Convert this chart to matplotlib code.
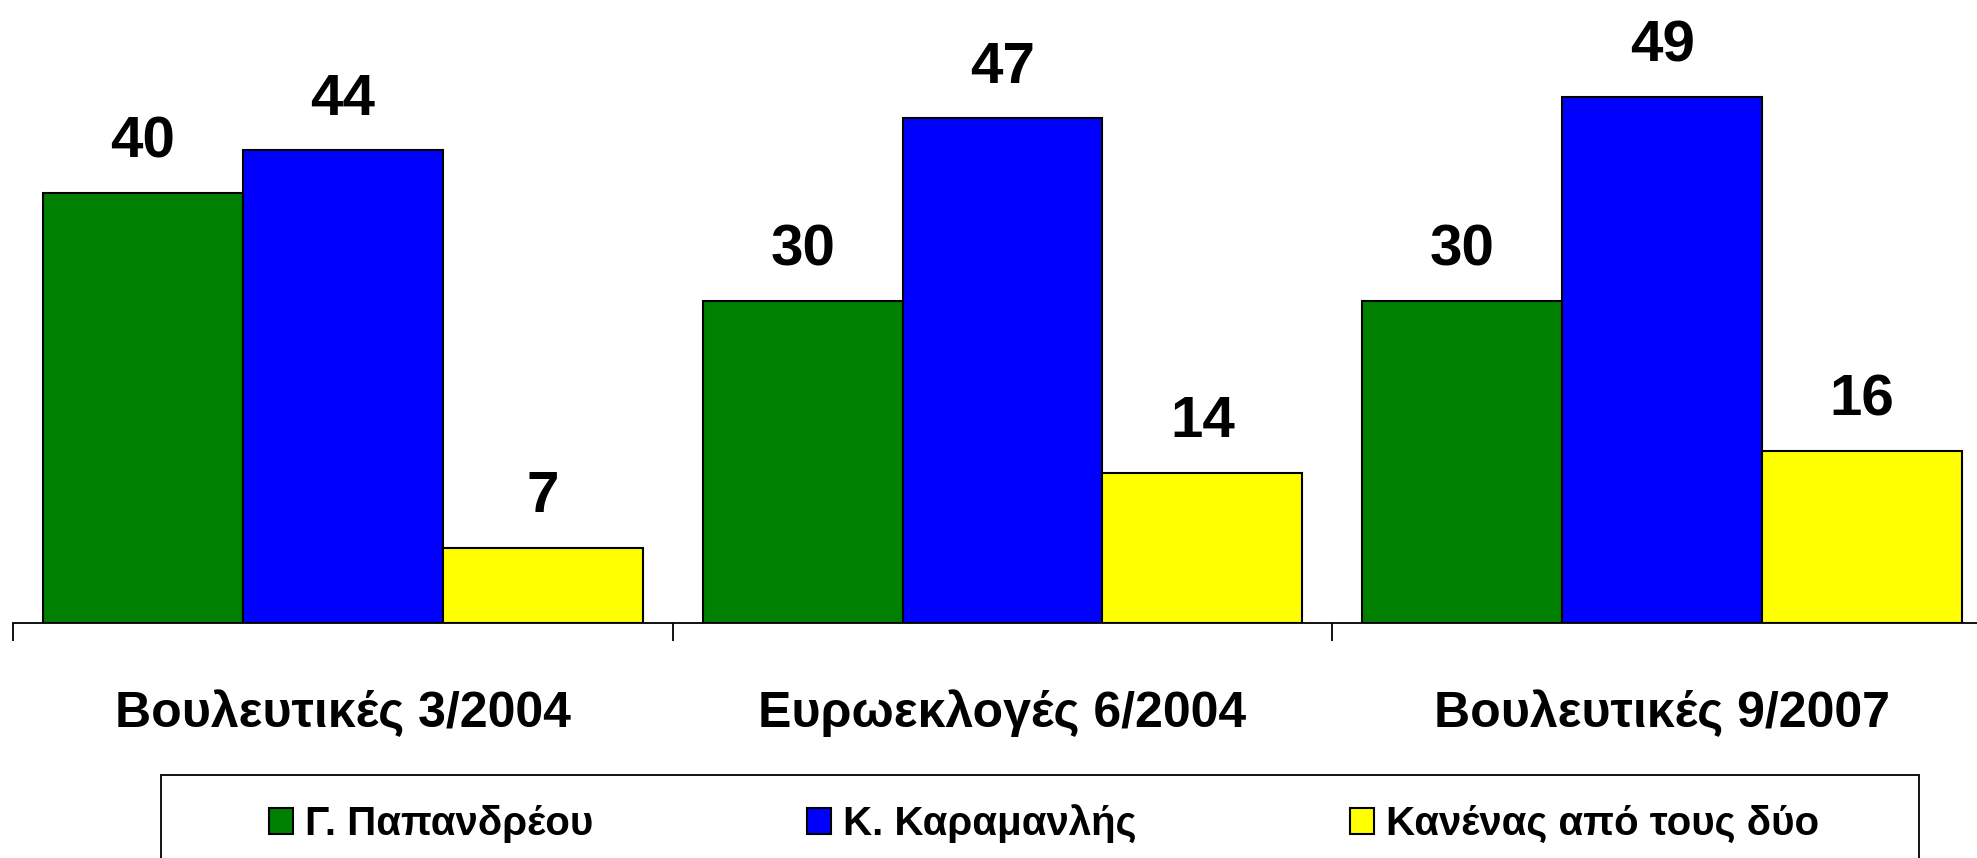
import matplotlib.pyplot as plt
from matplotlib.patches import Rectangle
import numpy as np

plt.rcParams['font.family'] = ['Liberation Sans', 'DejaVu Sans']
plt.rcParams['font.weight'] = 'bold'

categories = ['Βουλευτικές 3/2004', 'Ευρωεκλογές 6/2004', 'Βουλευτικές 9/2007']
series_names = ['Γ. Παπανδρέου', 'Κ. Καραμανλής', 'Κανένας από τους δύο']
papandreou = [40, 30, 30]
karamanlis = [44, 47, 49]
kanenas = [7, 14, 16]
colors = ['#008000', '#0000FF', '#FFFF00']

fig = plt.figure(figsize=(19.77, 8.58), dpi=100)
# axis runs slightly past the right edge, as in the original
ax = fig.add_axes([0.0066, 0.274, 1.001, 0.726])

x = np.arange(len(categories))
w = 0.303
handles = []
for i, (vals, name) in enumerate(zip([papandreou, karamanlis, kanenas], series_names)):
    bars = ax.bar(x + (i - 1) * w, vals, w, color=colors[i], edgecolor='black',
                  linewidth=1.5, label=name)
    handles.append(bars)
    for b, v in zip(bars, vals):
        # value label above each bar
        ax.annotate(str(v), (b.get_x() + b.get_width() / 2, v), xytext=(0, 17),
                    textcoords='offset points', ha='center', va='bottom',
                    fontsize=42, fontweight='bold')

ax.set_xlim(-0.5, 2.5)
ax.set_ylim(0, 58)
ax.set_yticks([])
for s in ['left', 'right', 'top']:
    ax.spines[s].set_visible(False)
ax.spines['bottom'].set_linewidth(1.3)

ax.set_xticks(x)
ax.set_xticklabels(categories, fontsize=36, fontweight='bold')
ax.tick_params(axis='x', which='major', length=0, pad=48)
ax.set_xticks([-0.5, 0.5, 1.5, 2.5], minor=True)
ax.tick_params(axis='x', which='minor', length=13, width=1.3, color='black')

# legend frame runs off the bottom edge like the original
fig.patches.append(Rectangle((161 / 1977, -0.1), (1919 - 161) / 1977, 0.1967,
                             transform=fig.transFigure, fill=False,
                             edgecolor='black', linewidth=1.3))
leg = fig.legend(handles, series_names, loc='center', bbox_to_anchor=(0.528, 0.04),
                 ncol=3, fontsize=29, frameon=False, handlelength=0.6,
                 handleheight=0.6, handletextpad=0.3, columnspacing=5.3)
for t in leg.get_texts():
    t.set_fontweight('bold')

fig.savefig('out.png', dpi=100)
